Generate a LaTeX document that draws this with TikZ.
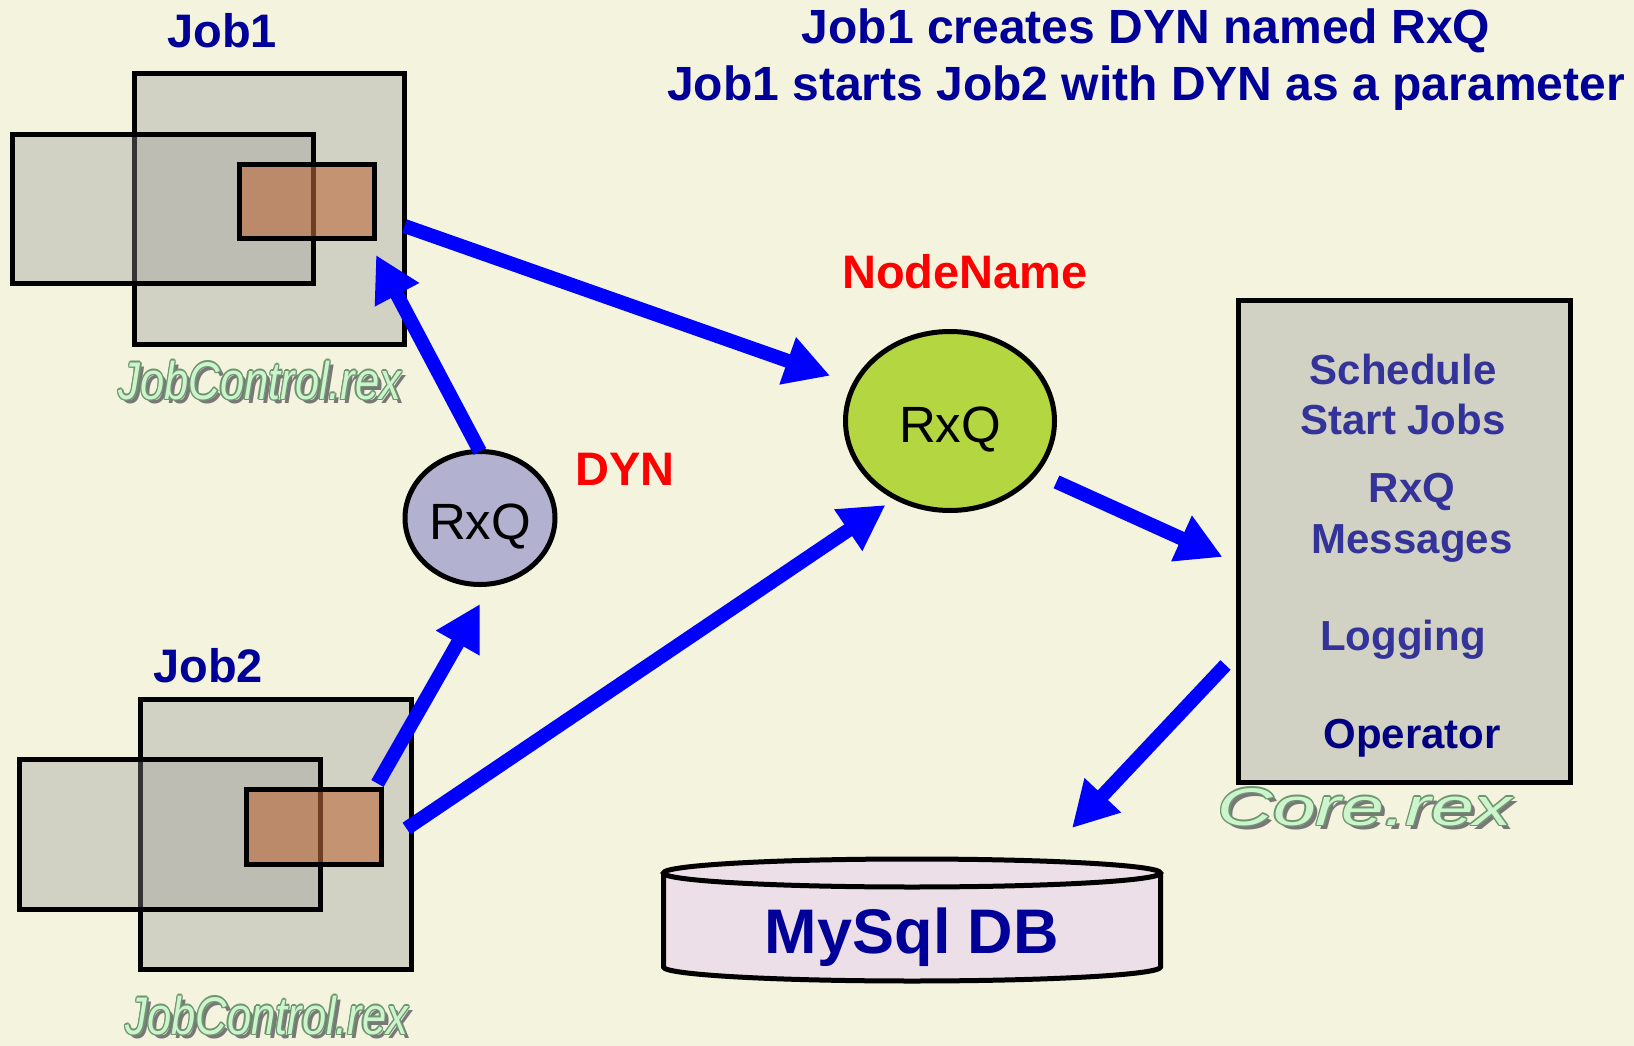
\documentclass[tikz,border=0pt]{standalone}
\usepackage{fontspec}
\setmainfont{Liberation Sans}
\usetikzlibrary{arrows.meta,shapes.geometric}
\definecolor{bgcol}{RGB}{243,243,222}
\definecolor{boxgray}{RGB}{150,150,150}
\definecolor{brownfill}{RGB}{185,105,60}
\definecolor{navy}{RGB}{0,0,153}
\definecolor{slateblue}{RGB}{51,51,153}
\definecolor{opnavy}{RGB}{0,0,128}
\definecolor{arrowblue}{RGB}{0,0,255}
\definecolor{lavender}{RGB}{178,178,208}
\definecolor{limegreen}{RGB}{180,214,64}
\definecolor{dbpink}{RGB}{236,220,234}
\definecolor{rexfill}{RGB}{205,245,205}
\definecolor{rexedge}{RGB}{110,150,110}
\definecolor{rexshadow}{RGB}{120,120,120}
\newcommand\rexlbl[4]{%
  \node[rextext, text=rexshadow, xshift=4pt, yshift=-4pt] (#1s) at (#2) {\scalebox{#3}[1]{#4}};
  \foreach \dx/\dy [count=\k] in {1.4/0,-1.4/0,0/1.4,0/-1.4,1/1,1/-1,-1/1,-1/-1}
    \node[rextext, text=rexedge, xshift=\dx pt, yshift=\dy pt] (#1o\k) at (#2) {\scalebox{#3}[1]{#4}};
  \node[rextext, text=rexfill] (#1) at (#2) {\scalebox{#3}[1]{#4}};
}
\begin{document}
\begin{tikzpicture}[x=1pt,y=-1pt,
  graybox/.style={rectangle, draw=black, line width=5pt, fill=boxgray, fill opacity=0.35, inner sep=0pt, outer sep=0pt},
  brownbox/.style={rectangle, draw=black, line width=5pt, fill=brownfill, fill opacity=0.6, inner sep=0pt, outer sep=0pt},
  queue/.style={ellipse, draw=black, line width=5pt, inner sep=0pt, outer sep=0pt},
  qtext/.style={inner sep=0pt, anchor=base, font=\fontsize{51}{51}\selectfont},
  navytext/.style={inner sep=0pt, anchor=base, text=navy, font=\fontsize{48}{48}\selectfont\bfseries},
  redtext/.style={inner sep=0pt, anchor=base, text=red, font=\fontsize{47}{47}\selectfont\bfseries},
  coretext/.style={inner sep=0pt, anchor=base, text=slateblue, font=\fontsize{42}{42}\selectfont\bfseries},
  rextext/.style={inner sep=0pt, anchor=base, font=\fontsize{53}{53}\selectfont\itshape},
  flow/.style={draw=arrowblue, line width=14pt, -{Triangle[length=45pt,width=47pt]}}
]
\useasboundingbox (0,0) rectangle (1634,1046);
\fill[bgcol] (0,0) rectangle (1634,1046);

% Job1 group
\node[graybox, minimum width=270pt, minimum height=271pt] (j1big) at (269.5,209) {};
\node[graybox, minimum width=301pt, minimum height=149pt] (j1left) at (163,209) {};
\node[brownbox, minimum width=135pt, minimum height=74pt] (j1brown) at (307,201.5) {};
% Job2 group
\node[graybox, minimum width=271pt, minimum height=270pt] (j2big) at (276,834.5) {};
\node[graybox, minimum width=301pt, minimum height=150pt] (j2left) at (170,834.5) {};
\node[brownbox, minimum width=135pt, minimum height=75pt] (j2brown) at (314,827) {};
% Core box
\node[graybox, minimum width=332pt, minimum height=482pt] (core) at (1404,541.5) {};

% queues
\node[queue, fill=lavender, minimum width=150pt, minimum height=133pt] (rxqsmall) at (480,518) {};
\node[queue, fill=limegreen, minimum width=209pt, minimum height=179pt] (rxqbig) at (950,421) {};

% database
\path[fill=dbpink, fill opacity=0.85] (663.5,873) -- (663.5,967)
  arc[start angle=180, end angle=0, x radius=248.5, y radius=14] -- (1160.5,873)
  arc[start angle=0, end angle=-180, x radius=248.5, y radius=14] -- cycle;
\draw[line width=5pt] (663.5,873) -- (663.5,967)
  arc[start angle=180, end angle=0, x radius=248.5, y radius=14] -- (1160.5,873);
\draw[line width=5pt] (912,873) ellipse[x radius=248.5, y radius=14];
\coordinate (dbtop) at (912,873);

% arrows
\draw[flow, shorten >=26pt] ([yshift=-17pt]j1big.east) -- (rxqbig.159);
\draw[flow] (rxqsmall.north) -- ([xshift=1.5pt,yshift=-16.5pt]j1brown.south east);
\draw[flow] ([xshift=-4pt,yshift=6pt]j2brown.north east) -- ([yshift=-19.5pt]rxqsmall.south);
\draw[flow, shorten >=13pt] ([xshift=-5pt,yshift=6pt]j2big.east) -- (rxqbig.235);
\draw[flow, shorten <=23pt] (rxqbig.329) -- ([xshift=-15.5pt,yshift=-15.5pt]core.west);
\draw[flow] ([xshift=-12.5pt,yshift=-123.5pt]core.west) -- ([xshift=160pt,yshift=45pt]dbtop);

% texts
\node[navytext] (title1) at (1146,44) {Job1 creates DYN named RxQ};
\node[navytext] (title2) at (1146,101) {Job1 starts Job2 with DYN as a parameter};
\node[navytext, font=\fontsize{47}{47}\selectfont\bfseries] (job1lbl) at (222,48) {Job1};
\node[navytext, font=\fontsize{47}{47}\selectfont\bfseries] (job2lbl) at (208,682) {Job2};
\node[redtext] (nodename) at (965,288) {NodeName};
\node[redtext] (dyn) at (625,485) {DYN};
\node[qtext] (rxqsmalltxt) at (480,539) {RxQ};
\node[qtext] (rxqbigtxt) at (950,442) {RxQ};
\node[coretext] (c1) at (1403,384) {Schedule};
\node[coretext] (c2) at (1403,434) {Start Jobs};
\node[coretext] (c3) at (1412,502) {RxQ};
\node[coretext] (c4) at (1412,553) {Messages};
\node[coretext] (c5) at (1403,650) {Logging};
\node[coretext, text=opnavy] (c6) at (1412,748) {Operator};
\node[inner sep=0pt, anchor=base, text=navy, font=\fontsize{63}{63}\selectfont\bfseries] (dbtext) at (912,953) {MySql DB};

\rexlbl{jc1}{260,399}{0.82}{JobControl.rex}
\rexlbl{jc2}{267,1034}{0.82}{JobControl.rex}
\rexlbl{corerex}{1365,825}{1.45}{Core.rex}
\end{tikzpicture}
\end{document}
